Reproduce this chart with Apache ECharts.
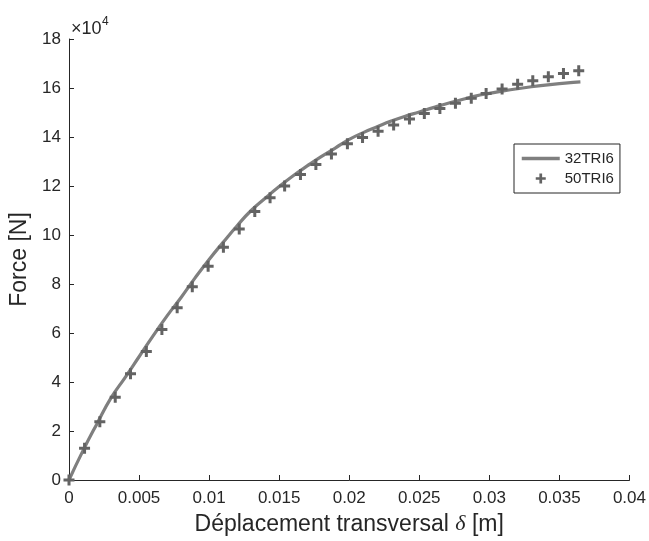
<!DOCTYPE html>
<html>
<head>
<meta charset="utf-8">
<script src="https://cdn.jsdelivr.net/npm/echarts@6/dist/echarts.min.js"></script>
<style>
html,body{margin:0;padding:0;background:#fff;}
#chart{width:649px;height:541px;}
</style>
</head>
<body>
<div id="chart"></div>
<script>
// Force values in units of 10^4 N
var lineName = '32TRI6';
var markName = '50TRI6';
var lineX = [0, 0.001, 0.002, 0.003, 0.004, 0.005, 0.006, 0.007, 0.008, 0.009, 0.010, 0.011, 0.012, 0.013, 0.014, 0.015, 0.016, 0.017, 0.018, 0.019, 0.020, 0.021, 0.022, 0.023, 0.024, 0.025, 0.026, 0.027, 0.028, 0.029, 0.030, 0.031, 0.032, 0.033, 0.034, 0.035, 0.036, 0.0365];
var lineY = [0, 1.2, 2.3, 3.35, 4.18, 5.03, 5.88, 6.7, 7.45, 8.25, 9.0, 9.7, 10.38, 11.0, 11.5, 11.98, 12.42, 12.82, 13.2, 13.55, 13.9, 14.18, 14.42, 14.65, 14.85, 15.02, 15.2, 15.37, 15.52, 15.67, 15.78, 15.88, 15.97, 16.05, 16.12, 16.18, 16.23, 16.25];
var markX = [0, 0.00111, 0.0022, 0.0033, 0.00439, 0.00552, 0.00663, 0.00772, 0.0088, 0.00993, 0.01102, 0.01215, 0.01326, 0.01435, 0.01539, 0.01652, 0.01762, 0.01873, 0.01987, 0.02095, 0.02206, 0.02317, 0.0243, 0.02536, 0.02647, 0.02758, 0.02871, 0.02977, 0.03091, 0.03202, 0.0331, 0.03421, 0.03529, 0.03638];
var markY = [0, 1.30, 2.38, 3.38, 4.34, 5.24, 6.14, 7.03, 7.89, 8.72, 9.50, 10.24, 10.96, 11.52, 12.0, 12.47, 12.88, 13.31, 13.72, 13.98, 14.23, 14.49, 14.73, 14.96, 15.16, 15.38, 15.58, 15.78, 15.96, 16.15, 16.30, 16.46, 16.59, 16.70];
var xTicks = ['0', '0.005', '0.01', '0.015', '0.02', '0.025', '0.03', '0.035', '0.04'];
var yTicks = ['0', '2', '4', '6', '8', '10', '12', '14', '16', '18'];

var font = 'Liberation Sans, Arial, sans-serif';
var plus = 'path://M4,0 H7 V4 H11 V7 H7 V11 H4 V7 H0 V4 H4 Z';

var chart = echarts.init(document.getElementById('chart'), null, {renderer: 'canvas'});
var axisCommon = {
  axisLine: {show: true, lineStyle: {color: '#262626', width: 1}},
  axisTick: {show: true, inside: true, length: 5, lineStyle: {color: '#262626'}},
  splitLine: {show: false},
  axisLabel: {color: '#262626', fontSize: 17, fontFamily: font}
};
chart.setOption({
  animation: false,
  backgroundColor: '#fff',
  grid: {left: 69, right: 15, top: 39, bottom: 59},
  xAxis: Object.assign({}, axisCommon, {
    type: 'value', min: 0, max: 0.04, interval: 0.005,
    axisLabel: Object.assign({}, axisCommon.axisLabel, {margin: 10,
      formatter: function (v) { return xTicks[Math.round(v / 0.005)]; }}),
    name: 'Déplacement transversal {d|δ} [m]',
    nameLocation: 'middle', nameGap: 33,
    nameTextStyle: {color: '#262626', fontSize: 23, fontFamily: font,
      rich: {d: {fontSize: 22, fontStyle: 'italic', fontFamily: 'Liberation Serif, serif', color: '#262626'}}}
  }),
  yAxis: Object.assign({}, axisCommon, {
    type: 'value', min: 0, max: 18, interval: 2,
    axisLabel: Object.assign({}, axisCommon.axisLabel, {margin: 8,
      formatter: function (v) { return yTicks[Math.round(v / 2)]; }}),
    name: 'Force [N]', nameLocation: 'middle', nameGap: 35,
    nameTextStyle: {color: '#262626', fontSize: 23, fontFamily: font}
  }),
  legend: {
    orient: 'vertical', left: 514, top: 144, width: 105,
    padding: [7, 6, 7, 6], itemGap: 5,
    borderColor: '#262626', borderWidth: 1, borderRadius: 0,
    itemWidth: 38, itemHeight: 10,
    textStyle: {color: '#262626', fontSize: 15, fontFamily: font},
    data: [{name: lineName, itemStyle: {opacity: 0}, lineStyle: {width: 3.5, color: '#7f7f7f'}}, {name: markName}]
  },
  graphic: [
    {type: 'text', left: 71, top: 20, style: {text: '×10', fontSize: 18, fontFamily: font, fill: '#262626'}},
    {type: 'text', left: 102, top: 16, style: {text: '4', fontSize: 12, fontFamily: font, fill: '#262626'}}
  ],
  series: [
    {name: lineName, type: 'line', smooth: true, symbol: 'none', showSymbol: false,
      data: lineX.map(function (x, i) { return [x, lineY[i]]; }),
      lineStyle: {color: '#7f7f7f', width: 3.2}, itemStyle: {color: '#7f7f7f'}, z: 2},
    {name: markName, type: 'scatter', symbol: plus, symbolSize: 11,
      data: markX.map(function (x, i) { return [x, markY[i]]; }),
      itemStyle: {color: '#636363', opacity: 1}, z: 3}
  ]
});
</script>
</body>
</html>
